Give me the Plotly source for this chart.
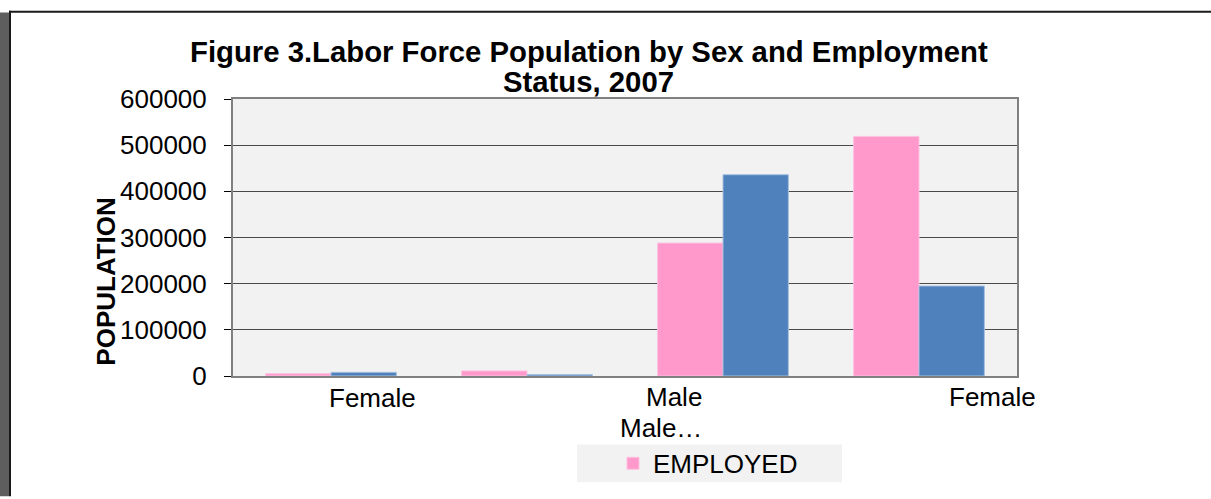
import plotly.graph_objects as go

# ---- data ----
categories = [0, 1, 2, 3]
employed = [5000, 11000, 288000, 519000]
unemployed = [8000, 3000, 436000, 195000]
series_names = ["EMPLOYED", "UNEMPLOYED"]
x_labels = ["Female", "Male", "Male…", "Female"]
y_ticks = [0, 100000, 200000, 300000, 400000, 500000, 600000]
title_lines = ["Figure 3.Labor Force Population by Sex and Employment", "Status, 2007"]
y_title = "POPULATION"

# ---- layout geometry (pixels) ----
W, H = 1211, 499
ML, MR, MT, MB = 233, 194, 99, 121
PW, PH = W - ML - MR, H - MT - MB


def px(x):
    return (x - ML) / PW


def py(y):
    return (H - MB - y) / PH


FONT = "Arial, Liberation Sans, sans-serif"

fig = go.Figure()
fig.add_trace(go.Bar(
    x=categories, y=employed, name=series_names[0],
    marker=dict(color="#ff99cc", line=dict(color="#ffc1e0", width=1)),
))
fig.add_trace(go.Bar(
    x=categories, y=unemployed, name=series_names[1], showlegend=False,
    marker=dict(color="#4f81bd", line=dict(color="#a7c0de", width=1)),
))

annotations = []
# title lines
for text, (cx, cy) in zip(title_lines, [(588.5, 51.5), (588.5, 81.5)]):
    annotations.append(dict(
        text=f"<b>{text}</b>", xref="paper", yref="paper", x=px(cx), y=py(cy),
        xanchor="center", yanchor="middle", showarrow=False,
        font=dict(family=FONT, size=29.3, color="black"),
    ))
# y axis title
annotations.append(dict(
    text=f"<b>{y_title}</b>", xref="paper", yref="paper", x=px(106), y=py(283),
    xanchor="center", yanchor="middle", showarrow=False, textangle=-90,
    font=dict(family=FONT, size=26, color="black"),
))
# category labels
label_pos = [(372, 400, "center"), (704, 399, "right"), (704, 430, "right"), (992.5, 399, "center")]
for text, (lx, ly, anc) in zip(x_labels, label_pos):
    annotations.append(dict(
        text=text, xref="paper", yref="paper", x=px(lx), y=py(ly),
        xanchor=anc, yanchor="middle", showarrow=False,
        font=dict(family=FONT, size=26, color="black"),
    ))

shapes = [
    # legend background box
    dict(type="rect", xref="paper", yref="paper", x0=px(577), x1=px(842), y0=py(485), y1=py(447),
         fillcolor="#f2f2f2", line=dict(width=0), layer="below"),
    # outer frame: dark left strip and black border lines
    dict(type="rect", xref="paper", yref="paper", x0=px(0), x1=px(9), y0=py(499), y1=py(12),
         fillcolor="#5e5e5e", line=dict(width=0)),
    dict(type="line", xref="paper", yref="paper", x0=px(9), x1=px(1211), y0=py(11), y1=py(11),
         line=dict(color="#1a1a1a", width=2)),
    dict(type="line", xref="paper", yref="paper", x0=px(10), x1=px(10), y0=py(10), y1=py(499),
         line=dict(color="#1a1a1a", width=2)),
]

fig.update_layout(
    width=W, height=H, autosize=False,
    margin=dict(l=ML, r=MR, t=MT, b=MB, pad=0),
    paper_bgcolor="white", plot_bgcolor="#f2f2f2",
    barmode="group", bargap=0.333, bargroupgap=0,
    font=dict(family=FONT, size=26, color="black"),
    showlegend=True,
    legend=dict(
        orientation="h", x=px(613), y=py(466), xanchor="left", yanchor="middle",
        bgcolor="rgba(0,0,0,0)", font=dict(family=FONT, size=26, color="black"),
    ),
    annotations=annotations,
    shapes=shapes,
)
fig.update_xaxes(
    range=[-0.5, 3.5], showticklabels=False, showgrid=False, zeroline=False,
    showline=True, linecolor="#808080", linewidth=2, mirror=True, ticks="",
)
fig.update_yaxes(
    range=[0, 600000], tickvals=y_ticks, ticktext=[str(v) for v in y_ticks],
    showgrid=True, gridcolor="#4a4a4a", gridwidth=1, zeroline=False,
    showline=True, linecolor="#808080", linewidth=2, mirror=True,
    ticks="outside", ticklen=7, tickcolor="black", tickwidth=1,
    ticklabelstandoff=12,
    tickfont=dict(family=FONT, size=26, color="black"),
)

fig.write_html(
    "out.html",
    config={"displayModeBar": False},
    post_script="document.body.style.margin='0';document.body.style.padding='0';",
)
